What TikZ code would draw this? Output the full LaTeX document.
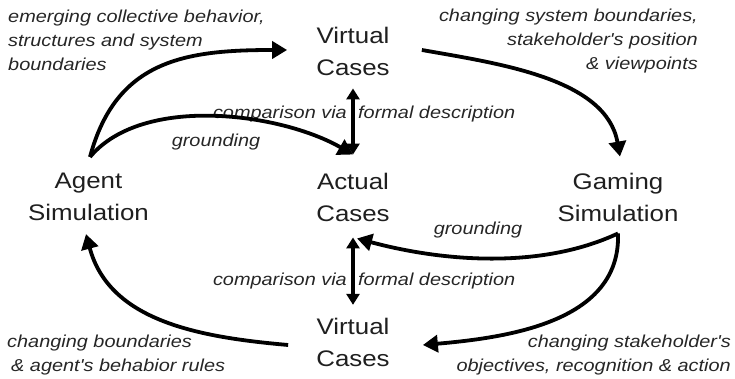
\documentclass[tikz,border=0pt]{standalone}
\usepackage{fontspec}
\setmainfont{Liberation Sans}[FakeStretch=1.15, Ligatures=TeXOff]
\usetikzlibrary{arrows.meta,calc}
\begin{document}
\begin{tikzpicture}[x=1pt,y=1pt,
  big/.style={font=\fontsize{22.5}{32}\selectfont, align=center, inner sep=0pt, text=black!88},
  lbl/.style={font=\fontsize{17.3}{24}\selectfont\itshape, inner sep=0pt, text=black!85},
  flow/.style={line width=3.8pt, -{Triangle[length=15pt,width=17pt]}},
  cmp/.style={line width=3.4pt, {Triangle[length=11pt,width=13pt]}-{Triangle[length=11pt,width=13pt]}},
]
\useasboundingbox (0,0) rectangle (735,379);
% main nodes
\node[big] (vt) at (353,328) {Virtual\\Cases};
\node[big] (ac) at (353,182) {Actual\\Cases};
\node[big] (vb) at (353,36.7) {Virtual\\Cases};
\node[big] (as) at (88.5,182) {Agent\\Simulation};
\node[big] (gs) at (618,182) {Gaming\\Simulation};
% connector ends
\coordinate (asT) at ($(as.north)+(1.5,16)$);
\coordinate (asB) at ($(as.south)+(-2.5,-13)$);
\coordinate (vtW) at ($(vt.west)+(-29,1)$);
\coordinate (vtE) at ($(vt.east)+(32,1)$);
\coordinate (vtS) at ($(vt.south)+(0,-13)$);
\coordinate (acN) at ($(ac.north)+(0,18)$);
\coordinate (acS) at ($(ac.south)+(0,-16)$);
\coordinate (acSE) at ($(ac.south)+(4,-17)$);
\coordinate (vbN) at ($(vb.north)+(0,13)$);
\coordinate (vbE) at ($(vb.east)+(33,-2.7)$);
\coordinate (vbW) at ($(vb.west)+(-28,-2.7)$);
\coordinate (gsN) at ($(gs.north)+(2,16)$);
\coordinate (gsS) at ($(gs.south)+(0,-12)$);
% labels
\node[lbl, anchor=west, align=left] (l1) at (8,338.6) {emerging collective behavior,\\structures and system\\boundaries};
\node[lbl, anchor=east, align=right] (l2) at (698,337.5) {changing system boundaries,\\stakeholder's position\\\& viewpoints};
\node[lbl, anchor=west, align=left] (l3) at (7,23.5) {changing boundaries\\\hspace*{4pt}\& agent's behabior rules};
\node[lbl, anchor=east, align=right] (l4) at (731,24) {changing stakeholder's\\objectives, recognition \& action};
\node[lbl] (g1) at (216,237) {grounding};
\node[lbl] (g2) at (478,149) {grounding};
\node[lbl, anchor=east] (c1a) at (347,265) {comparison via};
\node[lbl, anchor=west] (c1b) at (358,265) {formal description};
\node[lbl, anchor=east] (c2a) at (347,98) {comparison via};
\node[lbl, anchor=west] (c2b) at (358,98) {formal description};
% connectors
\draw[flow] (asT) to[out=75,in=180,looseness=1.15] (vtW);
\draw[flow] (asT) to[out=50,in=150,looseness=0.8] (acN);
\draw[flow] (vtE) to[out=-10,in=100,looseness=0.9] (gsN);
\draw[flow] (gsS) to[out=205,in=-15,looseness=0.85] (acSE);
\draw[flow] (gsS) to[out=-88,in=5] (vbE);
\draw[flow] (vbW) to[out=175,in=-75] (asB);
\draw[cmp] (vtS) -- (acN);
\draw[cmp] (acS) -- (vbN);
\end{tikzpicture}
\end{document}
